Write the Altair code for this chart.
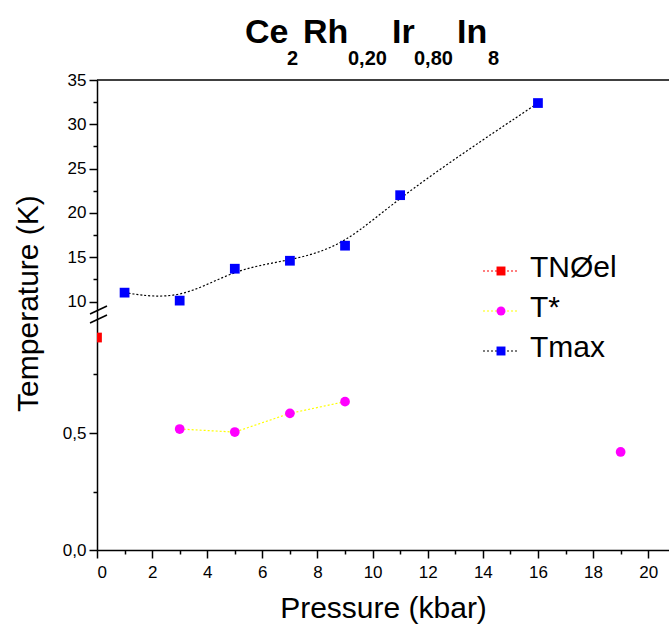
import json
import altair as alt
import pandas as pd

# ---------------- data ----------------
series_names = ["TNØel", "T*", "Tmax"]
point_colors = ["#ff0000", "#ff00ff", "#0000ff"]
line_colors = ["#ff0000", "#ffff00", "#000000"]
point_shapes = ["square", "circle", "square"]

tneel_p = [0]
tneel_t = [0.908]
tstar_p = [3, 5, 7, 9, 19]
tstar_t = [0.517, 0.504, 0.584, 0.634, 0.419]
tmax_p = [1, 3, 5, 7, 9, 11, 16]
tmax_t = [11.0, 10.1, 13.7, 14.6, 16.3, 22.0, 32.4]

x_tick_values = list(range(0, 21))
low_tick_values = [0, 0.25, 0.5, 0.75]
low_tick_labels = ["0,0", "", "0,5", ""]
up_tick_values = [10, 12.5, 15, 17.5, 20, 22.5, 25, 27.5, 30, 32.5, 35]
up_tick_labels = ["10", "", "15", "", "20", "", "25", "", "30", "", "35"]

title_parts = ["Ce", "2", "Rh", "0,20", "Ir", "0,80", "In", "8"]

# ---------------- layout / broken axis mapping ----------------
W, H = 572, 470
LOW_SCALE = 234.0      # px per K in the lower segment
UP_BASE = 248.5        # position of 10 K
UP_SCALE = 8.86        # px per K in the upper segment
FONT = "Liberation Sans"


def to_u(v):
    return round(v * LOW_SCALE if v < 5 else UP_BASE + (v - 10) * UP_SCALE, 3)


y_vals = [to_u(v) for v in low_tick_values + up_tick_values]
y_labels = low_tick_labels + up_tick_labels
y_major = [u for u, l in zip(y_vals, y_labels) if l != ""]

rows = []
for name, ps, ts in [("TNØel", tneel_p, tneel_t), ("T*", tstar_p, tstar_t), ("Tmax", tmax_p, tmax_t)]:
    for p, t in zip(ps, ts):
        rows.append({"P": p, "T": t, "series": name})
df = pd.DataFrame(rows)

base = alt.Chart(df).transform_calculate(
    u=f"datum.T < 5 ? datum.T * {LOW_SCALE} : {UP_BASE} + (datum.T - 10) * {UP_SCALE}"
)

x_enc = alt.X(
    "P:Q",
    scale=alt.Scale(domain=[0, 20.755], nice=False, zero=False),
    axis=alt.Axis(
        values=x_tick_values,
        labelExpr="datum.value % 2 == 0 ? datum.label : ''",
        tickSize={"condition": {"test": "datum.value % 2 == 0", "value": 8}, "value": 4},
        labelPadding=6,
        title="Pressure (kbar)",
        titleY=67,
        titleBaseline="alphabetic",
    ),
)
y_enc = alt.Y(
    "u:Q",
    scale=alt.Scale(domain=[0, H], nice=False, zero=False),
    axis=alt.Axis(
        values=y_vals,
        labelExpr=f"{json.dumps(y_labels)}[indexof({json.dumps(y_vals)}, datum.value)]",
        tickSize={"condition": {"test": f"indexof({json.dumps(y_major)}, datum.value) >= 0", "value": 8}, "value": 4},
        labelPadding=3,
        title="Temperature (K)",
        titleX=-60,
        titleY=223,
        titleBaseline="alphabetic",
    ),
)

stroke_enc = alt.Stroke("series:N", scale=alt.Scale(domain=series_names, range=line_colors), legend=None)
color_enc = alt.Color("series:N", scale=alt.Scale(domain=series_names, range=point_colors), legend=None)
shape_enc = alt.Shape("series:N", scale=alt.Scale(domain=series_names, range=point_shapes), legend=None)

tmax_line = base.transform_filter("datum.series == 'Tmax'").mark_line(
    interpolate="basis", strokeDash=[2, 2], strokeWidth=1.2
).encode(x=x_enc, y=y_enc, stroke=stroke_enc)

tstar_line = base.transform_filter("datum.series == 'T*' && datum.P <= 9").mark_line(
    strokeDash=[2, 2], strokeWidth=1.2
).encode(x=x_enc, y=y_enc, stroke=stroke_enc)

points = base.mark_point(filled=True, size=95, opacity=1, clip=True).encode(
    x=x_enc, y=y_enc, color=color_enc, shape=shape_enc
)

main = alt.layer(tmax_line, tstar_line, points)

# ---------------- legend (drawn with marks) ----------------
leg_df = pd.DataFrame({"series": series_names})
leg_y = alt.Y("series:N", scale=alt.Scale(type="point", domain=series_names, range=[191, 271], padding=0), axis=None)
leg_rule = alt.Chart(leg_df).mark_rule(strokeDash=[2, 2], strokeWidth=1.2).encode(
    x=alt.value(386), x2=alt.value(420), y=leg_y, stroke=stroke_enc
)
leg_pts = alt.Chart(leg_df).mark_point(filled=True, size=80, opacity=1).encode(
    x=alt.value(404), y=leg_y, color=color_enc, shape=shape_enc
)
leg_txt = alt.Chart(leg_df).mark_text(
    align="left", baseline="alphabetic", dy=6, fontSize=30, font=FONT, color="black"
).encode(x=alt.value(433), y=leg_y, text="series:N")
legend = alt.layer(leg_rule, leg_pts, leg_txt)

# ---------------- decorations: frame top, axis break, title ----------------
one = pd.DataFrame({"k": [0]})
top_rule = alt.Chart(one).mark_rule(color="black", strokeWidth=1.5).encode(
    x=alt.value(0), x2=alt.value(W), y=alt.value(0)
)
brk1 = alt.Chart(one).mark_rule(color="black", strokeWidth=1.5).encode(
    x=alt.value(-7), x2=alt.value(10), y=alt.value(234), y2=alt.value(226)
)
brk2 = alt.Chart(one).mark_rule(color="black", strokeWidth=1.5).encode(
    x=alt.value(-7), x2=alt.value(10), y=alt.value(243), y2=alt.value(235)
)

title_x = [148, 190, 206, 251, 295, 317, 360, 391]
title_layers = []
for i, (part, tx) in enumerate(zip(title_parts, title_x)):
    is_sub = i % 2 == 1
    title_layers.append(
        alt.Chart(pd.DataFrame({"t": [part]})).mark_text(
            align="left", baseline="alphabetic", font=FONT, fontWeight="bold",
            fontSize=20 if is_sub else 34, color="black"
        ).encode(x=alt.value(tx), y=alt.value(-15 if is_sub else -37), text="t:N")
    )

chart = alt.layer(main, legend, top_rule, brk1, brk2, *title_layers).resolve_scale(
    y="independent"
).properties(
    width=W, height=H,
    background="white",
    autosize=alt.AutoSizeParams(type="none"),
    padding={"left": 97, "top": 80, "right": 0, "bottom": 76},
).configure_view(stroke=None).configure_axis(
    grid=False,
    domainColor="black", domainWidth=1.5,
    tickColor="black", tickWidth=1.5,
    labelColor="black", labelFont=FONT, labelFontSize=17,
    titleColor="black", titleFont=FONT, titleFontSize=30, titleFontWeight="normal",
)

chart.save("out.html", embed_options={"renderer": "svg", "actions": False})
